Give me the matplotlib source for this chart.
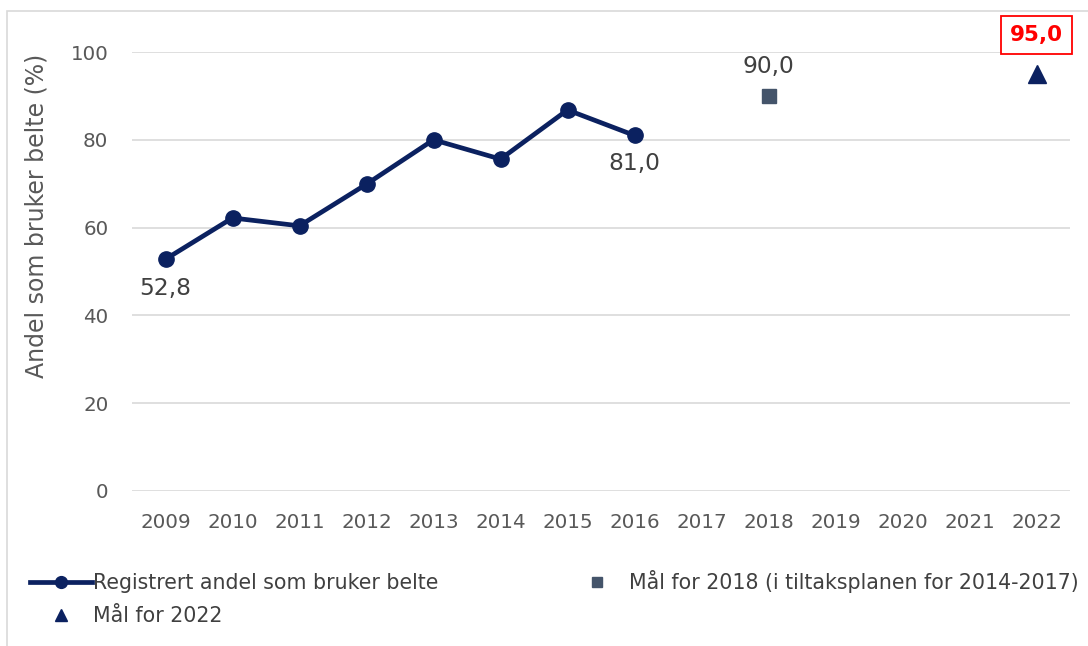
import matplotlib
matplotlib.use("Agg")
import matplotlib.pyplot as plt
from matplotlib.lines import Line2D
from matplotlib.patches import Rectangle

plt.rcParams['font.family'] = ['DejaVu Sans']

# Data
years = [2009, 2010, 2011, 2012, 2013, 2014, 2015, 2016]
registered = [52.8, 62.2, 60.4, 69.9, 80.0, 75.6, 86.8, 81.0]
goal_2018_year = [2018]
goal_2018 = [90.0]
goal_2022_year = [2022]
goal_2022 = [95.0]
xticks = list(range(2009, 2023))
yticks = [0, 20, 40, 60, 80, 100]
labels = ["Registrert andel som bruker belte",
          "Mål for 2018 (i tiltaksplanen for 2014-2017)",
          "Mål for 2022"]
ylabel = "Andel som bruker belte (%)"

navy = "#0B2160"
slate = "#44546A"
txt = "#404040"
grid = "#D9D9D9"

W, H = 1088, 646
fig = plt.figure(figsize=(W / 100, H / 100), dpi=100)
ax = fig.add_axes([132 / W, 1 - 491 / H, (1070 - 132) / W, (491 - 52) / H])

ax.plot(years, registered, color=navy, lw=3.4, marker='o', ms=11, zorder=3)
ax.plot(goal_2018_year, goal_2018, ls='none', marker='s', ms=9.5, color=slate, zorder=3)
ax.plot(goal_2022_year, goal_2022, ls='none', marker='^', ms=12.5, color=navy, zorder=3, clip_on=False)

ax.set_xlim(2008.5, 2022.5)
ax.set_ylim(0, 100)
ax.set_xticks(xticks)
ax.set_xticklabels([str(x) for x in xticks])
ax.set_yticks(yticks)
ax.yaxis.grid(True, color=grid, lw=1.2)
ax.set_axisbelow(True)
for s in ax.spines.values():
    s.set_visible(False)
ax.tick_params(axis='both', length=0, labelsize=14.3, labelcolor="#595959")
ax.tick_params(axis='x', pad=16)
ax.tick_params(axis='y', pad=17)

ax.set_ylabel(ylabel, fontsize=17, color="#595959")
ax.yaxis.set_label_coords(-(132 - 49) / (1070 - 132), (491 - 216) / (491 - 52))

def fmt(v):
    return f"{v:.1f}".replace('.', ',')

ax.annotate(fmt(registered[0]), (years[0], registered[0]), xytext=(0, -21),
            textcoords='offset points', ha='center', va='center', fontsize=16.8, color=txt)
ax.annotate(fmt(registered[-1]), (years[-1], registered[-1]), xytext=(0, -20),
            textcoords='offset points', ha='center', va='center', fontsize=16.8, color=txt)
ax.annotate(fmt(goal_2018[0]), (goal_2018_year[0], goal_2018[0]), xytext=(0, 21),
            textcoords='offset points', ha='center', va='center', fontsize=16.8, color=txt)
ax.annotate(fmt(goal_2022[0]), (goal_2022_year[0], goal_2022[0]), xytext=(0, 28),
            textcoords='offset points', ha='center', va='center', fontsize=15.5,
            color="#FF0000", fontweight='bold', annotation_clip=False,
            bbox=dict(boxstyle='square,pad=0.4', fc='white', ec='#FF0000', lw=1.3))

# figure border
fig.patches.append(Rectangle((7 / W, -0.05), 1.2, 1 - 11 / H + 0.05,
                             transform=fig.transFigure, fill=False,
                             ec="#D9D9D9", lw=1.2))

handles = [
    Line2D([], [], color=navy, lw=3.4, marker='o', ms=8.5),
    Line2D([], [], ls='none', marker='^', ms=8.5, color=navy),
    Line2D([], [], ls='none', marker='s', ms=7, color=slate),
]
leg = fig.legend(handles, [labels[0], labels[2], labels[1]], ncol=2,
                 loc='upper left', bbox_to_anchor=(30 / W, 1 - 570 / H),
                 frameon=False, fontsize=14.8, handlelength=3.0,
                 handletextpad=0.05, columnspacing=6.25, labelspacing=0.65,
                 borderpad=0, borderaxespad=0)
for t in leg.get_texts():
    t.set_color(txt)

fig.savefig("out.png", dpi=100)
